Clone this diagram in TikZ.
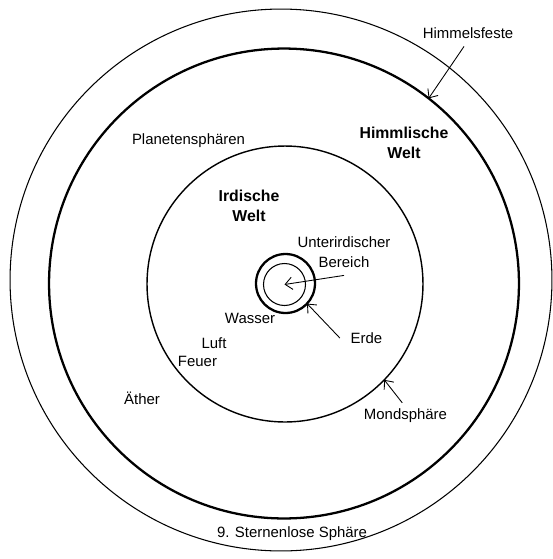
\documentclass[tikz,border=0pt]{standalone}
\usepackage{fontspec}
\setmainfont{Liberation Sans}
\usetikzlibrary{arrows.meta}

\begin{document}
\begin{tikzpicture}
  [x=0.02cm,y=-0.02cm,
   sphere/.style={circle,draw=black,inner sep=0pt,outer sep=0pt},
   tag/.style={font=\fontsize{8.5}{11}\selectfont,align=center,inner sep=1pt},
   title/.style={tag,font=\fontsize{9}{11}\selectfont\bfseries},
   pointer/.style={-{Straight Barb[length=4pt,width=7pt]},line width=0.5pt}]
  \useasboundingbox (0,0) rectangle (553,559);

  % Sphaeren von aussen nach innen
  \node[sphere,line width=0.6pt,minimum size=10.84cm] (outer) at (281,280) {};
  \node[sphere,line width=1.3pt,minimum size=9.4cm] (feste) at (284,283.5) {};
  \node[sphere,line width=0.8pt,minimum size=5.52cm] (mond) at (285,284) {};
  \node[sphere,line width=1.3pt,minimum size=1.18cm] (erde) at (285.5,283.5) {};
  \node[sphere,line width=0.6pt,minimum size=0.84cm] (kern) at (284.5,284.5) {};

  % Beschriftungen
  \node[tag] (tfeste) at (468,33) {Himmelsfeste};
  \node[title] (thimmel) at (404,143) {Himmlische\\Welt};
  \node[tag] (tplanet) at (188.5,141) {Planetensphären};
  \node[title] (tirdisch) at (249,206) {Irdische\\Welt};
  \node[tag] (tunter) at (344,252) {Unterirdischer\\Bereich};
  \node[tag] (twasser) at (250,318) {Wasser};
  \node[tag] (tluft) at (214,343) {Luft};
  \node[tag] (tfeuer) at (197.5,361) {Feuer};
  \node[tag] (tather) at (142,398) {Äther};
  \node[tag] (terde) at (366.5,338) {Erde};
  \node[tag] (tmond) at (405.5,416) {Mondsphäre};
  \node[tag] (tstern) at (292,534) {9. Sternenlose Sphäre};

  % Pfeile
  \draw[pointer,shorten <=4pt] (tfeste.south) -- (feste.52.8);
  \draw[pointer] ([xshift=-5pt]terde.west) -- (erde.-43);
  \draw[pointer,shorten <=3pt] (tmond.north) -- (mond.-44.7);
  \draw[pointer] ([yshift=-3.5pt]tunter.south) -- (kern.center);
\end{tikzpicture}
\end{document}
